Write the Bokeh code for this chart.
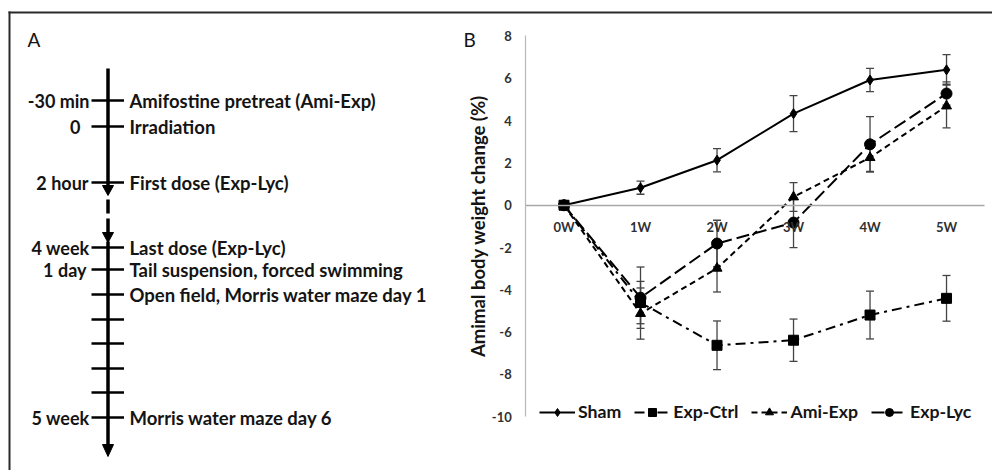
from bokeh.plotting import figure
from bokeh.models import (Range1d, LinearAxis, FixedTicker, ColumnDataSource,
                          Whisker, TeeHead, Legend, LegendItem)
from bokeh.core.properties import value
from bokeh.embed import file_html
from bokeh.resources import INLINE

# ---------------- data: panel B ----------------
weeks = ["0W", "1W", "2W", "3W", "4W", "5W"]
sham = [0, 0.83, 2.13, 4.33, 5.92, 6.40]
sham_err = [0, 0.31, 0.55, 0.85, 0.55, 0.72]
exp_ctrl = [0, -4.60, -6.62, -6.38, -5.19, -4.40]
exp_ctrl_err = [0, 1.00, 1.15, 1.00, 1.13, 1.08]
ami_exp = [0, -5.12, -2.98, 0.39, 2.25, 4.69]
ami_exp_err = [0, 1.21, 1.12, 0.68, 0.65, 1.03]
exp_lyc = [0, -4.37, -1.81, -0.82, 2.88, 5.28]
exp_lyc_err = [0, 1.45, 1.10, 1.18, 1.31, 0.55]
y_ticks = [-10, -8, -6, -4, -2, 0, 2, 4, 6, 8]

# ---------------- data: panel A (timeline) ----------------
left_labels = ["-30 min", "0", "2 hour", "4 week", "1 day", "5 week"]
left_label_y = [100, 126, 182, 247, 269, 417]
left_label_right = [89, 80, 88, 89, 86, 89]
events = ["Amifostine pretreat (Ami-Exp)", "Irradiation", "First dose (Exp-Lyc)",
          "Last dose (Exp-Lyc)", "Tail suspension, forced swimming",
          "Open field, Morris water maze day 1", "Morris water maze day 6"]
event_y = [100, 126, 182, 247, 269, 294, 417]
tick_y = [100, 126, 182, 247, 269, 294, 319, 343, 368, 392, 417]

FONT = value("Lato")
TXT = "#141414"

W, H = 992, 470
p = figure(width=W, height=H, output_backend="svg", toolbar_location=None, tools="",
           x_range=Range1d(-7.366, 5.601), y_range=Range1d(-12.538, 9.678),
           x_axis_type=None, y_axis_type=None,
           min_border_left=0, min_border_right=0, min_border_top=0, min_border_bottom=0)
p.outline_line_color = None
p.background_fill_color = "white"
p.border_fill_color = "white"
p.extra_x_ranges = {"px": Range1d(0, W)}
p.extra_y_ranges = {"py": Range1d(H, 0)}

# ---------------- frame border ----------------
p.segment(x0=[9, 8], y0=[11, 12], x1=[9, W], y1=[H, 12], x_range_name="px",
          y_range_name="py", line_color="#2a2a2a", line_width=2)

# ---------------- panel labels ----------------
p.text(x=[27, 463], y=[39, 39], text=["A", "B"], x_range_name="px", y_range_name="py",
       text_font=FONT, text_font_size="19px", text_color=TXT,
       text_baseline="middle", text_align="left")

# ---------------- panel A timeline ----------------
AX = 107.5
solid_segs = [(68, 186), (241, 446)]
p.segment(x0=[AX] * 2, y0=[s[0] for s in solid_segs], x1=[AX] * 2,
          y1=[s[1] for s in solid_segs], x_range_name="px", y_range_name="py",
          line_color="black", line_width=3.5)
p.segment(x0=[AX], y0=[199], x1=[AX], y1=[232], x_range_name="px", y_range_name="py",
          line_color="black", line_width=3.5, line_dash="14 5")
arrow_bases = [185, 232, 444]
arrow_tips = [195, 242, 456]
p.patches(xs=[[AX - 5.5, AX + 5.5, AX] for _ in arrow_bases],
          ys=[[b, b, t] for b, t in zip(arrow_bases, arrow_tips)],
          x_range_name="px", y_range_name="py", fill_color="black", line_color="black")
p.segment(x0=[91] * len(tick_y), y0=tick_y, x1=[123.5] * len(tick_y), y1=tick_y,
          x_range_name="px", y_range_name="py", line_color="black", line_width=2.5)
p.text(x=left_label_right, y=left_label_y, text=left_labels, x_range_name="px",
       y_range_name="py", text_font=FONT, text_font_style="bold", text_font_size="18px",
       text_color=TXT, text_align="right", text_baseline="middle")
p.text(x=[129] * len(events), y=event_y, text=events, x_range_name="px",
       y_range_name="py", text_font=FONT, text_font_style="bold", text_font_size="18.5px",
       text_color=TXT, text_align="left", text_baseline="middle")

# ---------------- panel B axes ----------------
xs = list(range(len(weeks)))
xaxis = LinearAxis(fixed_location=0, bounds=(-0.5, len(weeks) - 0.5),
                   ticker=FixedTicker(ticks=xs),
                   major_label_overrides={i: w for i, w in zip(xs, weeks)})
xaxis.axis_line_color = "#a8a8a8"
xaxis.axis_line_width = 1.5
xaxis.major_tick_line_color = None
xaxis.minor_tick_line_color = None
xaxis.major_tick_out = 0
xaxis.major_label_standoff = 14
xaxis.major_label_text_font = "Lato"
xaxis.major_label_text_font_style = "bold"
xaxis.major_label_text_font_size = "13px"
xaxis.major_label_text_color = "#303030"
p.add_layout(xaxis, "below")

yaxis = LinearAxis(fixed_location=-0.5, bounds=(-10, 8), ticker=FixedTicker(ticks=y_ticks),
                   major_label_overrides={t: str(t) for t in y_ticks},
                   axis_label="Amimal body weight change (%)")
yaxis.axis_line_color = "#b8b8b8"
yaxis.axis_line_width = 1.2
yaxis.major_tick_line_color = None
yaxis.minor_tick_line_color = None
yaxis.major_tick_out = 0
yaxis.major_label_standoff = 14
yaxis.major_label_text_font = "Lato"
yaxis.major_label_text_font_style = "bold"
yaxis.major_label_text_font_size = "13px"
yaxis.major_label_text_color = "#303030"
yaxis.axis_label_text_font = "Lato"
yaxis.axis_label_text_font_style = "bold"
yaxis.axis_label_text_font_size = "18.5px"
yaxis.axis_label_text_color = TXT
yaxis.axis_label_standoff = 0
p.add_layout(yaxis, "left")

# ---------------- panel B series ----------------
series = [
    ("Sham", sham, sham_err, "solid", "diamond", 10),
    ("Exp-Ctrl", exp_ctrl, exp_ctrl_err, "10 5 3 5", "square", 10),
    ("Ami-Exp", ami_exp, ami_exp_err, "6 4", "triangle", 10),
    ("Exp-Lyc", exp_lyc, exp_lyc_err, "13 5", "circle", 11),
]
items = []
for name, vals, errs, dash, marker, size in series:
    src = ColumnDataSource(dict(x=xs, y=vals))
    ln = p.line("x", "y", source=src, line_color="black", line_width=2, line_dash=dash)
    mk = p.scatter("x", "y", source=src, marker=marker, size=size,
                   fill_color="black", line_color="black")
    ex = [x for x, e in zip(xs, errs) if e > 0]
    lo = [v - e for v, e in zip(vals, errs) if e > 0]
    hi = [v + e for v, e in zip(vals, errs) if e > 0]
    wsrc = ColumnDataSource(dict(base=ex, lower=lo, upper=hi))
    wk = Whisker(base="base", lower="lower", upper="upper", source=wsrc,
                 dimension="height", line_color="#444444", line_width=1.3,
                 upper_head=TeeHead(size=8, line_color="#444444", line_width=1.3),
                 lower_head=TeeHead(size=8, line_color="#444444", line_width=1.3))
    p.add_layout(wk)
    items.append(LegendItem(label=name, renderers=[ln, mk]))

legend = Legend(items=items, orientation="horizontal", location=(539, 48),
                glyph_width=36, glyph_height=20, label_height=20, label_standoff=3,
                spacing=13, padding=0, margin=0, border_line_color=None,
                background_fill_alpha=0, label_text_font="Lato",
                label_text_font_style="bold", label_text_font_size="17.7px",
                label_text_color=TXT, label_text_baseline="middle")
p.add_layout(legend)

open("out.html", "w").write(file_html(p, INLINE))
